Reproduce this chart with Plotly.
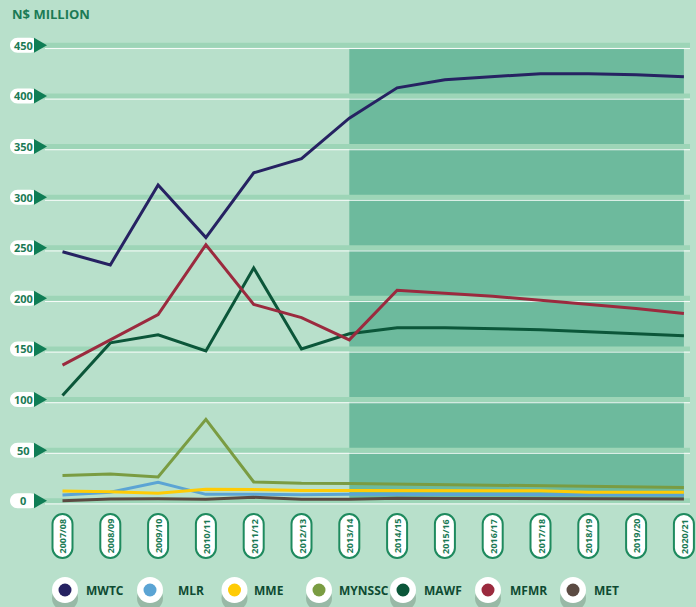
import plotly.graph_objects as go

# --- data (N$ million) ---
years = ['2007/08', '2008/09', '2009/10', '2010/11', '2011/12', '2012/13', '2013/14',
         '2014/15', '2015/16', '2016/17', '2017/18', '2018/19', '2019/20', '2020/21']
mwtc = [246, 233, 312, 260, 324, 338, 378, 408, 416, 419, 422, 422, 421, 419]
mlr = [5.6, 8.3, 18.2, 6.3, 6.3, 6, 6.5, 6.3, 6.2, 6.1, 6, 5.8, 5.7, 5.6]
mme = [9.6, 9, 7.3, 11.3, 11, 10, 10, 10, 10, 10, 9.8, 8.4, 8.3, 8.3]
mynssc = [25, 26.4, 23.4, 80.4, 18.5, 17.2, 17, 16.5, 16, 15.5, 15, 14.5, 14, 13.2]
mawf = [104, 156, 164, 148, 230, 150, 165, 171, 171, 170, 169, 167, 165, 163]
mfmr = [134, 159, 184, 253, 194, 181, 159, 208, 205, 202, 198, 194, 190, 185]
met = [0, 1.7, 2, 1.4, 3.4, 1.4, 1.4, 2.5, 2.3, 2.2, 2.1, 2, 1.9, 1.8]

series = [
    ('MYNSSC', mynssc, '#7a9c42'),
    ('MLR', mlr, '#5ba4d4'),
    ('MME', mme, '#ffcb05'),
    ('MET', met, '#5b4a42'),
    ('MAWF', mawf, '#0b5639'),
    ('MFMR', mfmr, '#9b2a3e'),
    ('MWTC', mwtc, '#262262'),
]
legend_order = ['MWTC', 'MLR', 'MME', 'MYNSSC', 'MAWF', 'MFMR', 'MET']
colors = {name: c for name, _, c in series}
y_ticks = list(range(0, 451, 50))

# --- layout constants ---
W, H = 696, 607
BG = '#b8e0cb'
STRIPE = '#9dd5b7'
SHADE = '#6dba9d'
DARK = '#0f7d55'
TEXT = '#1b7a55'
FONT = 'Open Sans'
X0, X1 = -1.3075, 13.253      # category axis range
Y0, Y1 = -105.0, 494.8        # value axis range
PX_PER_UNIT = H / (Y1 - Y0)


def xp(i):
    return (i - X0) / (X1 - X0)


def pill(x0, x1, y0, y1, rx, ry):
    k = 0.5523
    return (f"M{x0+rx},{y0} L{x1-rx},{y0} "
            f"C{x1-rx+k*rx},{y0} {x1},{y0+ry-k*ry} {x1},{y0+ry} "
            f"L{x1},{y1-ry} C{x1},{y1-ry+k*ry} {x1-rx+k*rx},{y1} {x1-rx},{y1} "
            f"L{x0+rx},{y1} C{x0+rx-k*rx},{y1} {x0},{y1-ry+k*ry} {x0},{y1-ry} "
            f"L{x0},{y0+ry} C{x0},{y0+ry-k*ry} {x0+rx-k*rx},{y0} {x0+rx},{y0} Z")


fig = go.Figure()

for name, vals, col in series:
    fig.add_trace(go.Scatter(
        x=years, y=vals, mode='lines', name=name,
        line=dict(color=col, width=3),
        showlegend=False,
        hovertemplate=name + ': %{y}<extra></extra>'
    ))

shapes = []
annotations = []

# forecast shading
shapes.append(dict(type='rect', xref='paper', yref='y', x0=xp(6), x1=xp(13),
                   y0=0, y1=446.3, fillcolor=SHADE, line_width=0, layer='below'))

# gridline stripes + y tick pills
for v in y_ticks:
    h = 2.5 / PX_PER_UNIT
    shapes.append(dict(type='rect', xref='paper', yref='y', x0=40 / W, x1=690 / W,
                       y0=v - h, y1=v + h, fillcolor=STRIPE, line_width=0, layer='below'))
    wy = v - 3.2 / PX_PER_UNIT
    shapes.append(dict(type='line', xref='paper', yref='y', x0=45 / W, x1=690 / W,
                       y0=wy, y1=wy, line=dict(color='rgba(255,255,255,0.9)', width=1),
                       layer='below'))
    r = 7.5 / PX_PER_UNIT
    shapes.append(dict(type='path', xref='paper', yref='y',
                       path=pill(10 / W, 38 / W, v - r, v + r, 7.5 / W, r),
                       fillcolor='white', line_width=0))
    shapes.append(dict(type='path', xref='paper', yref='y',
                       path=f"M{34/W},{v+r} L{47/W},{v} L{34/W},{v-r} Z",
                       fillcolor=DARK, line_width=0))
    annotations.append(dict(x=23 / W, y=v, xref='paper', yref='y', text=str(v),
                            showarrow=False, xanchor='center', yanchor='middle',
                            font=dict(family=FONT, size=11, color=TEXT, weight='bold')))

# x label pills
for i, yr in enumerate(years):
    cx = xp(i)
    shapes.append(dict(type='path', xref='paper', yref='paper',
                       path=pill(cx - 10 / W, cx + 10 / W, 1 - 558 / H, 1 - 514 / H, 10 / W, 10 / H),
                       fillcolor='white', line=dict(color='#1e8a5e', width=2)))
    annotations.append(dict(x=cx, y=1 - 536 / H, xref='paper', yref='paper', text=yr,
                            showarrow=False, textangle=-90, xanchor='center', yanchor='middle',
                            font=dict(family=FONT, size=9, color=TEXT, weight='bold')))

# custom legend
leg_cx = [65, 150, 234.5, 319, 403, 488, 573]
leg_tx = [84, 176, 252, 337, 422, 508, 592]
for name, cx, tx in zip(legend_order, leg_cx, leg_tx):
    cy = 590
    shapes.append(dict(type='circle', xref='paper', yref='paper',
                       x0=(cx - 13) / W, x1=(cx + 13) / W, y0=1 - (cy + 21) / H, y1=1 - (cy - 5) / H,
                       fillcolor='#98b9a6', line_width=0))
    shapes.append(dict(type='circle', xref='paper', yref='paper',
                       x0=(cx - 13) / W, x1=(cx + 13) / W, y0=1 - (cy + 13) / H, y1=1 - (cy - 13) / H,
                       fillcolor='white', line_width=0))
    shapes.append(dict(type='circle', xref='paper', yref='paper',
                       x0=(cx - 6.5) / W, x1=(cx + 6.5) / W, y0=1 - (cy + 6.5) / H, y1=1 - (cy - 6.5) / H,
                       fillcolor=colors[name], line_width=0))
    annotations.append(dict(x=tx / W, y=1 - cy / H, xref='paper', yref='paper', text=name,
                            showarrow=False, xanchor='left', yanchor='middle',
                            font=dict(family=FONT, size=12, color='#0e4b32', weight='bold')))

# title
annotations.append(dict(x=10 / W, y=1 - 14 / H, xref='paper', yref='paper', text='N$ MILLION',
                        showarrow=False, xanchor='left', yanchor='middle',
                        font=dict(family=FONT, size=13, color=TEXT, weight='bold')))

fig.update_layout(
    width=W, height=H,
    paper_bgcolor=BG, plot_bgcolor=BG,
    margin=dict(l=0, r=0, t=0, b=0),
    shapes=shapes, annotations=annotations,
    showlegend=False,
    hovermode='closest'
)
fig.update_xaxes(type='category', range=[X0, X1], showgrid=False, showticklabels=False,
                 zeroline=False, showline=False, ticks='')
fig.update_yaxes(range=[Y0, Y1], showgrid=False, showticklabels=False,
                 zeroline=False, showline=False, ticks='')

# page body has a default 8px margin; remove it so the figure fills the window
fig.write_html("out.html", config={'displayModeBar': False},
               post_script="document.body.style.margin='0';"
                           "document.body.style.background='" + BG + "';")
